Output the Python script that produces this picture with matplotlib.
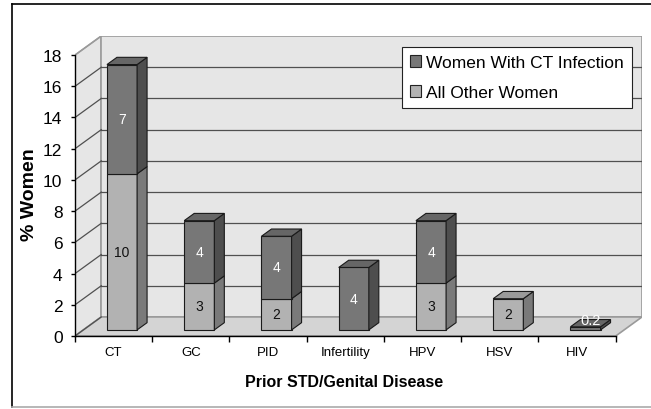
import matplotlib
matplotlib.use("Agg")
import matplotlib.pyplot as plt
from matplotlib.patches import Polygon, Patch
from matplotlib.lines import Line2D

categories = ["CT", "GC", "PID", "Infertility", "HPV", "HSV", "HIV"]
ct_infection = [7, 4, 4, 4, 4, 0, 0.2]
all_other = [10, 3, 2, 0, 3, 2, 0]
series_names = ["Women With CT Infection", "All Other Women"]
y_ticks = list(range(0, 20, 2))

plt.rcParams['font.family'] = ['Liberation Sans', 'DejaVu Sans']

W, H = 651, 410
fig = plt.figure(figsize=(W / 100, H / 100), dpi=100)

# Depth geometry (data units)
Dx, Dy = 0.34, 1.22          # floor/wall depth offset
n = len(categories)
ymax = 18
bw = 0.39                     # bar width
f0, f1 = 0.32, 0.70           # bar front/back depth fraction

ax = fig.add_axes([75 / W, (H - 337) / H, (642 - 75) / W, 300 / H])
ax.set_xlim(0, n + Dx)
ax.set_ylim(0, ymax + Dy)
ax.patch.set_visible(False)

wall_c = "#e6e6e6"
floor_c = "#d4d4d4"
edge_c = "#9a9a9a"
grid_c = "#505050"

# Left wall
ax.add_patch(Polygon([(0, 0), (Dx, Dy), (Dx, ymax + Dy), (0, ymax)], closed=True,
                     facecolor=wall_c, edgecolor=edge_c, lw=1.2, zorder=1))
# Back wall
ax.add_patch(Polygon([(Dx, Dy), (n + Dx, Dy), (n + Dx, ymax + Dy), (Dx, ymax + Dy)], closed=True,
                     facecolor=wall_c, edgecolor=edge_c, lw=1.2, zorder=1))
# Floor
ax.add_patch(Polygon([(0, 0), (n, 0), (n + Dx, Dy), (Dx, Dy)], closed=True,
                     facecolor=floor_c, edgecolor=edge_c, lw=1.2, zorder=1))

# Gridlines
for v in y_ticks:
    if v == 0 or v == ymax:
        ax.plot([0, Dx], [v, v + Dy], color=grid_c if v == 0 else edge_c, lw=0.9, zorder=2)
        continue
    ax.plot([0, Dx], [v, v + Dy], color=grid_c, lw=0.9, zorder=2)
    ax.plot([Dx, n + Dx], [v + Dy, v + Dy], color=grid_c, lw=0.9, zorder=2)

dark = dict(front="#777777", side="#4e4e4e", top="#666666")
light = dict(front="#b2b2b2", side="#7a7a7a", top="#9a9a9a")

ox0, oy0 = f0 * Dx, f0 * Dy
ddx, ddy = (f1 - f0) * Dx, (f1 - f0) * Dy


def draw_segment(x0, y0, h, col, top, z):
    xl = x0 + ox0
    xr = xl + bw
    yb = y0 + oy0
    yt = yb + h
    ax.add_patch(Polygon([(xl, yb), (xr, yb), (xr, yt), (xl, yt)], closed=True,
                         facecolor=col["front"], edgecolor="#1a1a1a", lw=0.8, zorder=z))
    ax.add_patch(Polygon([(xr, yb), (xr + ddx, yb + ddy), (xr + ddx, yt + ddy), (xr, yt)], closed=True,
                         facecolor=col["side"], edgecolor="#1a1a1a", lw=0.8, zorder=z))
    if top:
        ax.add_patch(Polygon([(xl, yt), (xr, yt), (xr + ddx, yt + ddy), (xl + ddx, yt + ddy)], closed=True,
                             facecolor=col["top"], edgecolor="#1a1a1a", lw=0.8, zorder=z))
    return (xl + xr) / 2, yb, yt


pad = (1 - bw) / 2
for i in range(n):
    x0 = i + pad
    z = 5 + i
    lo = all_other[i]
    hi = ct_infection[i]
    if lo > 0:
        cx, yb, yt = draw_segment(x0, 0, lo, light, hi == 0, z)
        ax.text(cx, (yb + yt) / 2, f"{lo:g}", ha="center", va="center",
                fontsize=10, color="#111111", zorder=20)
    if hi > 0:
        cx, yb, yt = draw_segment(x0, lo, hi, dark, True, z)
        ty = (yb + yt) / 2 if hi >= 1 else yt + 0.45
        ax.text(cx + (0 if hi >= 1 else 0.06), ty, f"{hi:g}", ha="center", va="center",
                fontsize=10.5 if hi < 1 else 10, color="white", zorder=20)

# Axes, ticks
for s in ["top", "right"]:
    ax.spines[s].set_visible(False)
ax.spines["left"].set_bounds(0, ymax)
ax.spines["bottom"].set_bounds(0, n)
ax.spines["left"].set_zorder(30)
ax.spines["bottom"].set_zorder(30)
ax.spines["left"].set_linewidth(1.0)
ax.spines["bottom"].set_linewidth(1.0)

ax.set_yticks(y_ticks)
ax.set_yticklabels([str(v) for v in y_ticks], fontsize=12.5)
ax.tick_params(axis="y", direction="out", length=3, width=1, pad=6)

ax.set_xticks(range(n + 1))
ax.set_xticklabels([])
ax.set_xticks([i + 0.5 for i in range(n)], minor=True)
ax.set_xticklabels(categories, minor=True, fontsize=9.5)
ax.tick_params(axis="x", which="major", direction="out", length=4, width=1)
ax.tick_params(axis="x", which="minor", length=0, pad=7)

fig.text(29 / W, 1 - 195 / H, "% Women", rotation=90, ha="center", va="center",
         fontsize=14, fontweight="bold")
fig.text(344 / W, 1 - 383 / H, "Prior STD/Genital Disease", ha="center", va="center",
         fontsize=11.5, fontweight="bold")

handles = [Patch(facecolor=dark["front"], edgecolor="#222222", lw=0.8),
           Patch(facecolor=light["front"], edgecolor="#222222", lw=0.8)]
leg = ax.legend(handles, series_names, loc="upper right",
                bbox_to_anchor=(632 / W, 1 - 48 / H), bbox_transform=fig.transFigure,
                fontsize=12.5, frameon=True, fancybox=False, framealpha=1,
                edgecolor="#222222", borderaxespad=0, borderpad=0.45,
                handlelength=0.65, handleheight=0.65, handletextpad=0.3,
                labelspacing=0.88)
leg.get_frame().set_linewidth(0.8)
leg.set_zorder(40)

# Outer frame
fig.add_artist(Line2D([12 / W, 1], [1 - 5 / H, 1 - 5 / H], color="black", lw=1.2))
fig.add_artist(Line2D([12 / W, 12 / W], [1 - 5 / H, 1 - 408 / H], color="black", lw=1.2))
fig.add_artist(Line2D([12 / W, 1], [1 - 408 / H, 1 - 408 / H], color="#aaaaaa", lw=1.2))

fig.savefig("out.png", dpi=100)
